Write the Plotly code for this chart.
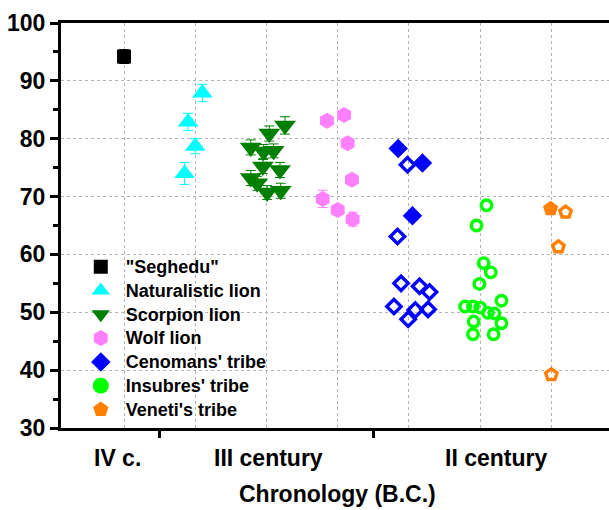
import plotly.graph_objects as go

# ---------------- data ----------------
series_names = ['"Seghedu"', "Naturalistic lion", "Scorpion lion", "Wolf lion",
                "Cenomans' tribe", "Insubres' tribe", "Veneti's tribe"]

seghedu_x = [1.00]
seghedu_y = [94.2]
seghedu_err = [1.2]
seghedu_filled = [True]

natural_x = [2.10, 1.90, 2.00, 1.85]
natural_y = [87.9, 82.9, 78.7, 74.0]
natural_err = [1.5, 1.5, 1.3, 1.9]
natural_filled = [True, True, True, True]

scorpion_x = [3.26, 3.04, 2.78, 2.96, 3.10, 2.95, 3.19, 2.78, 2.87, 3.01, 3.20]
scorpion_y = [82.3, 80.9, 78.5, 77.8, 77.9, 75.2, 74.6, 73.2, 72.3, 70.7, 71.0]
scorpion_err = [1.5, 1.3, 1.3, 1.2, 1.2, 1.2, 1.3, 1.3, 1.2, 1.2, 1.3]
scorpion_filled = [True] * 11

wolf_x = [3.85, 4.09, 4.14, 4.20, 3.79, 4.00, 4.21]
wolf_y = [83.1, 84.1, 79.2, 72.9, 69.6, 67.7, 66.1]
wolf_err = [0.5, 0.5, 0.5, 0.5, 1.5, 0.5, 1.2]
wolf_filled = [True] * 7

ceno_x = [4.85, 4.98, 5.19, 5.05, 4.84, 4.89, 5.15, 5.29, 4.79, 5.09, 5.27, 4.99]
ceno_y = [78.3, 75.5, 75.8, 66.7, 63.1, 55.0, 54.5, 53.5, 51.0, 50.4, 50.5, 48.8]
ceno_err = [0.0] * 12
ceno_filled = [True, False, True, True, False, False, False, False, False, False, False, False]

insu_x = [6.09, 5.95, 6.05, 6.15, 5.99, 6.30, 5.79, 5.90, 6.00, 6.11, 6.20, 5.91, 6.30, 5.90, 6.19]
insu_y = [68.5, 65.0, 58.5, 56.9, 54.9, 52.0, 51.0, 51.0, 50.8, 49.9, 49.8, 48.4, 48.1, 46.2, 46.2]
insu_err = [0.0] * 15
insu_filled = [False] * 15

veneti_x = [6.99, 7.20, 7.10, 7.00]
veneti_y = [67.9, 67.3, 61.3, 39.2]
veneti_err = [0.0] * 4
veneti_filled = [True, False, False, False]

chron_labels = ["IV c.", "III century", "II century"]
chron_label_pos = [0.91, 3.03, 6.22]
chron_sep_ticks = [1.5, 4.5]
group_grid = [1, 2, 3, 4, 5, 6, 7]

# ---------------- styles ----------------
# (x, y, err, filled, symbol, colour, filled size, open size, legend size)
groups = [
    (seghedu_x, seghedu_y, seghedu_err, seghedu_filled, "square", "#000000", 14, 11, 14),
    (natural_x, natural_y, natural_err, natural_filled, "triangle-up", "#00FFFF", 18, 13, 18),
    (scorpion_x, scorpion_y, scorpion_err, scorpion_filled, "triangle-down", "#007F00", 19, 13, 19),
    (wolf_x, wolf_y, wolf_err, wolf_filled, "hexagon", "#FF80FF", 16, 12, 16),
    (ceno_x, ceno_y, ceno_err, ceno_filled, "diamond", "#0000FF", 15, 11, 15),
    (insu_x, insu_y, insu_err, insu_filled, "circle", "#00FF00", 16, 10.5, 16),
    (veneti_x, veneti_y, veneti_err, veneti_filled, "pentagon", "#FF7F00", 16, 12, 16),
]

FONT = "Liberation Sans, Arial, sans-serif"
fig = go.Figure()

for name, (xs, ys, es, fl, sym, col, szf, szo, szl) in zip(series_names, groups):
    fx = [x for x, f in zip(xs, fl) if f]
    fy = [y for y, f in zip(ys, fl) if f]
    fe = [e for e, f in zip(es, fl) if f]
    ox = [x for x, f in zip(xs, fl) if not f]
    oy = [y for y, f in zip(ys, fl) if not f]
    label = '<span style="font-size:18px">' + name + '</span>'
    fig.add_trace(go.Scatter(
        x=fx if fx else [None], y=fy if fy else [None], mode="markers", name=label,
        legendgroup=name,
        marker=dict(symbol=sym, size=szf if fx else szl, color=col, line=dict(width=0)),
        error_y=dict(type="data", array=fe if fe else [0], color=col, thickness=1, width=5,
                     visible=any(e > 0 for e in fe)),
    ))
    if ox:
        fig.add_trace(go.Scatter(
            x=ox, y=oy, mode="markers", name=label, legendgroup=name, showlegend=False,
            marker=dict(symbol=sym + "-open", size=szo, color=col, line=dict(width=3.4, color=col)),
        ))

for txt, pos in zip(chron_labels, chron_label_pos):
    fig.add_annotation(x=pos, y=0, xref="x", yref="paper", yanchor="middle", yshift=-30,
                       text=txt, showarrow=False,
                       font=dict(family=FONT, size=23, color="black", weight="bold"))

fig.add_annotation(x=0.5046, xref="paper", y=0, yref="paper", yanchor="middle", yshift=-66,
                   text="Chronology (B.C.)", showarrow=False,
                   font=dict(family=FONT, size=23, color="black", weight="bold"))

fig.update_layout(
    width=609, height=510,
    margin=dict(l=61, r=0, t=23, b=82, autoexpand=False),
    paper_bgcolor="white", plot_bgcolor="white",
    font=dict(family=FONT, color="black", weight="bold"),
    showlegend=True,
    legend=dict(x=0.027, y=0.44, xanchor="left", yanchor="top",
                bgcolor="rgba(0,0,0,0)", font=dict(size=16, family=FONT, weight="bold"),
                tracegroupgap=0, itemwidth=40),
    xaxis=dict(range=[0.115, 7.81], showline=True, linewidth=3, linecolor="black",
               mirror=True, zeroline=False, automargin=False,
               tickmode="array", tickvals=chron_sep_ticks, ticktext=["", ""],
               ticks="outside", ticklen=7, tickwidth=2.5, tickcolor="black",
               showgrid=False,
               minor=dict(tickmode="array", tickvals=group_grid, showgrid=True,
                          gridcolor="#b4b4b4", griddash="3px,3px", gridwidth=1, ticks="")),
    yaxis=dict(range=[30, 100], showline=True, linewidth=3, linecolor="black",
               zeroline=False, automargin=False, tickmode="linear", tick0=30, dtick=10,
               ticks="outside", ticklen=8, tickwidth=2.5, tickcolor="black",
               tickfont=dict(size=23, family=FONT, weight="bold"),
               showgrid=True, gridcolor="#b4b4b4", griddash="3px,3px", gridwidth=1,
               minor=dict(dtick=5, ticks="outside", ticklen=5, tickwidth=2.5,
                          tickcolor="black", showgrid=False)),
)

fig.write_html("out.html", config={"displayModeBar": False},
               post_script="document.body.style.margin='0';document.body.style.padding='0';")
